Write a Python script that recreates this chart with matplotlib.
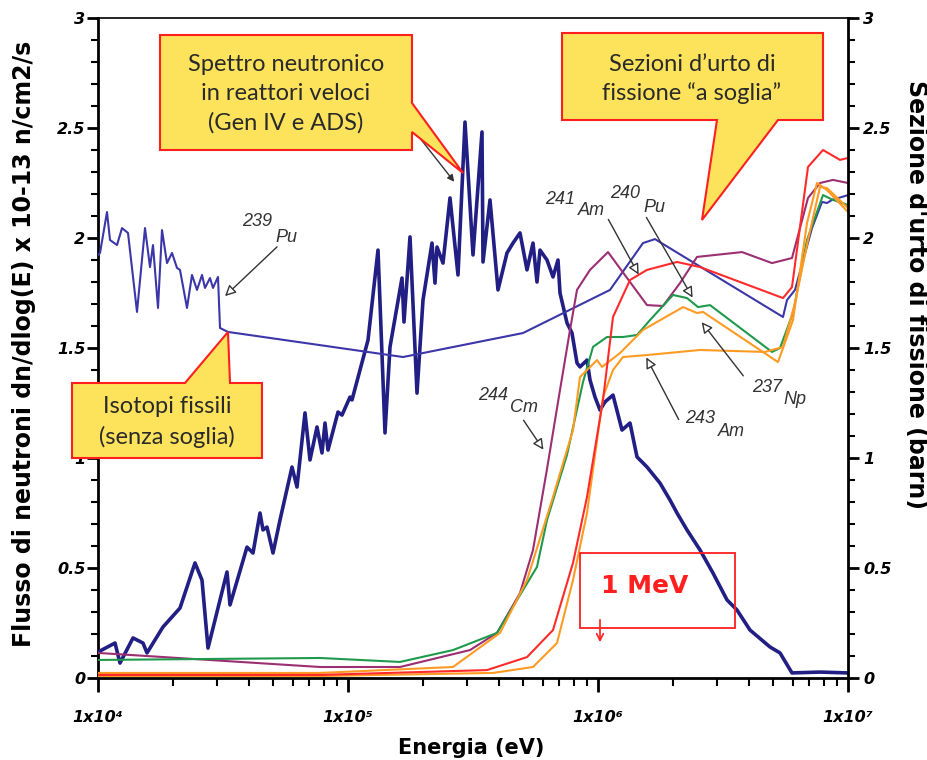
import matplotlib
matplotlib.use("Agg")
import matplotlib.pyplot as plt
import numpy as np
from matplotlib.patches import Polygon, Rectangle, FancyArrowPatch
from matplotlib.ticker import LogLocator, MultipleLocator, NullFormatter

# Neutron spectrum of a fast reactor: log10(E / eV) and flux (x 1e13 n/cm2/s)
spec_loge = [4.000, 4.068, 4.088, 4.140, 4.180, 4.196, 4.260, 4.328, 4.388, 4.416,
             4.440, 4.516, 4.528, 4.596, 4.620, 4.648, 4.660, 4.676, 4.700, 4.728,
             4.776, 4.796, 4.828, 4.848, 4.876, 4.896, 4.908, 4.920, 4.960, 4.976,
             5.008, 5.016, 5.080, 5.120, 5.148, 5.168, 5.216, 5.224, 5.248, 5.276,
             5.300, 5.336, 5.348, 5.356, 5.380, 5.408, 5.440, 5.468, 5.500, 5.536,
             5.540, 5.568, 5.600, 5.636, 5.660, 5.688, 5.716, 5.740, 5.756, 5.768,
             5.796, 5.820, 5.840, 5.848, 5.876, 5.896, 5.916, 5.928, 5.956, 5.968,
             5.988, 6.008, 6.028, 6.060, 6.096, 6.128, 6.156, 6.196, 6.248, 6.288,
             6.316, 6.356, 6.408, 6.460, 6.516, 6.556, 6.608, 6.688, 6.728, 6.776,
             6.888, 7.000]
spec_flux = [0.118, 0.159, 0.068, 0.182, 0.159, 0.114, 0.232, 0.318, 0.523, 0.445,
             0.136, 0.482, 0.332, 0.595, 0.568, 0.750, 0.673, 0.686, 0.568, 0.718,
             0.959, 0.868, 1.205, 0.991, 1.141, 1.023, 1.159, 1.036, 1.209, 1.195,
             1.277, 1.264, 1.536, 1.945, 1.114, 1.505, 1.818, 1.618, 2.005, 1.295,
             1.718, 1.977, 1.795, 1.959, 1.886, 2.182, 1.832, 2.527, 1.923, 2.482,
             1.891, 2.173, 1.764, 1.932, 1.977, 2.023, 1.855, 1.977, 1.800, 1.945,
             1.900, 1.823, 1.900, 1.750, 1.614, 1.568, 1.432, 1.414, 1.445, 1.355,
             1.277, 1.218, 1.255, 1.286, 1.127, 1.159, 1.005, 0.959, 0.886, 0.809,
             0.750, 0.673, 0.582, 0.477, 0.355, 0.309, 0.218, 0.141, 0.114, 0.023,
             0.027, 0.023]

# Fission cross sections (barn) vs log10(E / eV)
pu239_loge = [4.000, 4.008, 4.036, 4.048, 4.076, 4.096, 4.120, 4.156, 4.188, 4.208,
              4.220, 4.240, 4.256, 4.276, 4.296, 4.316, 4.328, 4.356, 4.376, 4.396,
              4.416, 4.428, 4.448, 4.460, 4.480, 4.488, 4.520, 5.220, 5.700, 6.048,
              6.180, 6.228, 6.300, 6.740, 6.756, 6.788, 6.856, 6.896, 6.916, 6.936, 7.000]
pu239_xs = [1.923, 1.932, 2.118, 1.991, 1.968, 2.045, 2.023, 1.664, 2.045, 1.868,
            1.968, 1.682, 2.036, 1.886, 1.932, 1.864, 1.855, 1.682, 1.832, 1.764,
            1.832, 1.773, 1.818, 1.773, 1.823, 1.591, 1.573, 1.459, 1.568, 1.764,
            1.977, 1.995, 1.945, 1.641, 1.718, 1.764, 2.045, 2.164, 2.159, 2.173, 2.195]

cm244_loge = [4.000, 4.888, 5.208, 5.488, 5.596, 5.688, 5.740, 5.796, 5.848, 5.888,
              5.916, 5.968, 6.040, 6.196, 6.260, 6.328, 6.396, 6.576, 6.696, 6.776,
              6.840, 6.888, 6.940, 7.000]
cm244_xs = [0.114, 0.050, 0.050, 0.127, 0.205, 0.386, 0.582, 0.950, 1.309, 1.582,
            1.764, 1.855, 1.936, 1.695, 1.691, 1.795, 1.914, 1.936, 1.886, 1.909,
            2.182, 2.250, 2.264, 2.250]

am241_loge = [4.000, 4.888, 5.556, 5.716, 5.820, 5.900, 5.956, 6.020, 6.060, 6.128,
              6.196, 6.316, 6.408, 6.740, 6.776, 6.840, 6.900, 6.968, 7.000]
am241_xs = [0.014, 0.014, 0.036, 0.095, 0.218, 0.523, 0.823, 1.264, 1.641, 1.809,
            1.855, 1.891, 1.868, 1.727, 1.777, 2.323, 2.400, 2.355, 2.364]

pu240_loge = [4.000, 4.888, 5.208, 5.420, 5.596, 5.688, 5.756, 5.796, 5.876, 5.940,
              5.980, 6.036, 6.100, 6.156, 6.208, 6.300, 6.356, 6.400, 6.448, 6.696,
              6.728, 6.780, 6.836, 6.900, 6.940, 7.000]
pu240_xs = [0.082, 0.091, 0.073, 0.127, 0.205, 0.377, 0.505, 0.718, 1.014, 1.345,
            1.505, 1.550, 1.550, 1.559, 1.627, 1.741, 1.727, 1.686, 1.695, 1.482,
            1.500, 1.659, 1.991, 2.195, 2.173, 2.150]

np237_loge = [4.000, 4.888, 5.420, 5.608, 5.716, 5.820, 5.900, 5.928, 5.996, 6.016,
              6.088, 6.180, 6.340, 6.396, 6.420, 6.720, 6.780, 6.836, 6.876, 6.916, 7.000]
np237_xs = [0.023, 0.023, 0.050, 0.205, 0.445, 0.823, 1.127, 1.368, 1.445, 1.414,
            1.477, 1.582, 1.686, 1.659, 1.664, 1.436, 1.627, 2.068, 2.250, 2.218, 2.118]

am243_loge = [4.000, 4.888, 5.580, 5.740, 5.836, 5.900, 5.956, 6.020, 6.060, 6.100,
              6.196, 6.408, 6.668, 6.740, 6.788, 6.840, 6.888, 6.916, 7.000]
am243_xs = [0.009, 0.009, 0.023, 0.050, 0.159, 0.445, 0.750, 1.277, 1.400, 1.459,
            1.468, 1.491, 1.482, 1.505, 1.705, 1.991, 2.232, 2.227, 2.136]

W, H = 928, 760
YELLOW = "#fde35c"
RED = "#ff1f1f"


def px(x, y):
    """pixel position in the picture -> figure fraction"""
    return (x / W, 1 - y / H)


fig = plt.figure(figsize=(W / 100, H / 100), dpi=100)
ax = fig.add_axes([98 / W, 1 - 678 / H, 750 / W, 660 / H])
ax2 = ax.twinx()

ax.plot(10 ** np.array(spec_loge), spec_flux, color="#221f84", lw=2.6, zorder=5)

xs_curves = [
    (pu239_loge, pu239_xs, "#3b37a8"),
    (cm244_loge, cm244_xs, "#9c2f72"),
    (pu240_loge, pu240_xs, "#1f9a4c"),
    (np237_loge, np237_xs, "#ff9a22"),
    (am243_loge, am243_xs, "#ff9a22"),
    (am241_loge, am241_xs, "#ff2a2a"),
]
for loge, vals, col in xs_curves:
    ax2.plot(10 ** np.array(loge), vals, color=col, lw=1.5)

for a in (ax, ax2):
    a.set_xscale("log")
    a.set_xlim(1e4, 1e7)
    a.set_ylim(0, 3)

yt = [0, 0.5, 1, 1.5, 2, 2.5, 3]
ytl = ["0", "0.5", "1", "1.5", "2", "2.5", "3"]
ax.set_yticks(yt, ytl, fontsize=11.5, fontweight="bold", fontstyle="italic")
ax2.set_yticks(yt, ytl, fontsize=11.5, fontweight="bold", fontstyle="italic")
ax.yaxis.set_minor_locator(MultipleLocator(0.1))
ax2.yaxis.set_minor_locator(MultipleLocator(0.1))

ax.set_xticks([1e4, 1e5, 1e6, 1e7], ["1x10\u2074", "1x10\u2075", "1x10\u2076", "1x10\u2077"],
              fontsize=11.5, fontweight="bold", fontstyle="italic")
ax.xaxis.set_minor_locator(LogLocator(base=10, subs=np.arange(2, 10)))
ax.xaxis.set_minor_formatter(NullFormatter())

ax.tick_params(axis="y", which="major", direction="out", length=8, width=2, pad=1)
ax.tick_params(axis="y", which="minor", direction="out", length=5, width=1.5)
ax2.tick_params(axis="y", which="major", direction="out", length=8, width=2, pad=3)
ax2.tick_params(axis="y", which="minor", direction="out", length=5, width=1.5)
ax.tick_params(axis="x", which="major", direction="out", length=10, width=2, pad=13)
ax.tick_params(axis="x", which="minor", direction="out", length=6, width=1.5)

for s in ("left", "bottom"):
    ax.spines[s].set_linewidth(2)
ax.spines["right"].set_visible(False)
ax.spines["top"].set_linewidth(1.2)
ax.spines["top"].set_linestyle((0, (4, 1)))
for s in ("left", "bottom", "top"):
    ax2.spines[s].set_visible(False)
ax2.spines["right"].set_linewidth(2)

# axis titles
fig.text(*px(24, 344), "Flusso di neutroni dn/dlog(E) x 10-13 n/cm2/s", rotation=90,
         ha="center", va="center", fontsize=17, fontweight="bold")
fig.text(*px(916, 294), "Sezione d'urto di fissione (barn)", rotation=-90,
         ha="center", va="center", fontsize=17, fontweight="bold")
fig.text(*px(471, 748), "Energia (eV)", ha="center", va="center",
         fontsize=15, fontweight="bold")

# small arrow partly hidden by the callout
fig.add_artist(FancyArrowPatch(px(412, 128), px(456, 184), transform=fig.transFigure,
                               arrowstyle="-|>", mutation_scale=10, color="#333333",
                               lw=1, zorder=2))

# callouts
callouts = [
    ([(160, 35), (412, 35), (412, 103), (463, 173), (412, 132), (412, 150), (160, 150)],
     (286, 94), "Spettro neutronico\nin reattori veloci\n(Gen IV e ADS)"),
    ([(562, 33), (823, 33), (823, 120), (778, 120), (702, 220), (717, 120), (562, 120)],
     (692, 79), "Sezioni d\u2019urto di\nfissione \u201ca soglia\u201d"),
    ([(72, 383), (185, 383), (228, 332), (230, 383), (262, 383), (262, 458), (72, 458)],
     (167, 422), "Isotopi fissili\n(senza soglia)"),
]
for pts, tpos, txt in callouts:
    fig.add_artist(Polygon([px(*p) for p in pts], closed=True, transform=fig.transFigure,
                           facecolor=YELLOW, edgecolor=RED, lw=1.5, zorder=3))
    fig.text(*px(*tpos), txt, ha="center", va="center", fontsize=17, family="Lato",
             color="#2a2a2a", linespacing=1.45, zorder=4)

# isotope labels: (number, symbol, number pos, symbol pos, arrow tail, arrow head)
isotopes = [
    ("239", "Pu", (242, 222), (275, 237), (279, 245), (223, 298)),
    ("241", "Am", (545, 199), (578, 210), (607, 217), (640, 277)),
    ("240", "Pu", (610, 194), (643, 207), (645, 215), (694, 300)),
    ("244", "Cm", (478, 396), (510, 408), (522, 418), (545, 452)),
    ("237", "Np", (752, 387), (783, 399), (745, 378), (700, 320)),
    ("243", "Am", (685, 418), (718, 431), (680, 422), (645, 355)),
]
for num, sym, pn, ps, tail, head in isotopes:
    fig.text(*px(*pn), num, ha="left", va="center", fontsize=13, fontstyle="italic",
             family="Liberation Sans", color="#333333", zorder=4)
    fig.text(*px(*ps), sym, ha="left", va="center", fontsize=13, fontstyle="italic",
             family="Liberation Sans", color="#333333", zorder=4)
    fig.add_artist(FancyArrowPatch(px(*tail), px(*head), transform=fig.transFigure,
                                   arrowstyle="-|>", mutation_scale=16, facecolor="white",
                                   edgecolor="#333333", lw=1, zorder=4))

# 1 MeV marker
fig.add_artist(Rectangle(px(580, 628), 155 / W, 75 / H, transform=fig.transFigure,
                         facecolor="none", edgecolor=RED, lw=1.3, zorder=4))
fig.text(*px(645, 586), "1 MeV", ha="center", va="center", fontsize=18,
         fontweight="bold", color=RED, zorder=4)
fig.add_artist(FancyArrowPatch(px(600, 617), px(600, 645), transform=fig.transFigure,
                               arrowstyle="->", mutation_scale=12, color=RED, lw=1.2,
                               zorder=4))

fig.savefig("out.png", dpi=100, facecolor="white")
